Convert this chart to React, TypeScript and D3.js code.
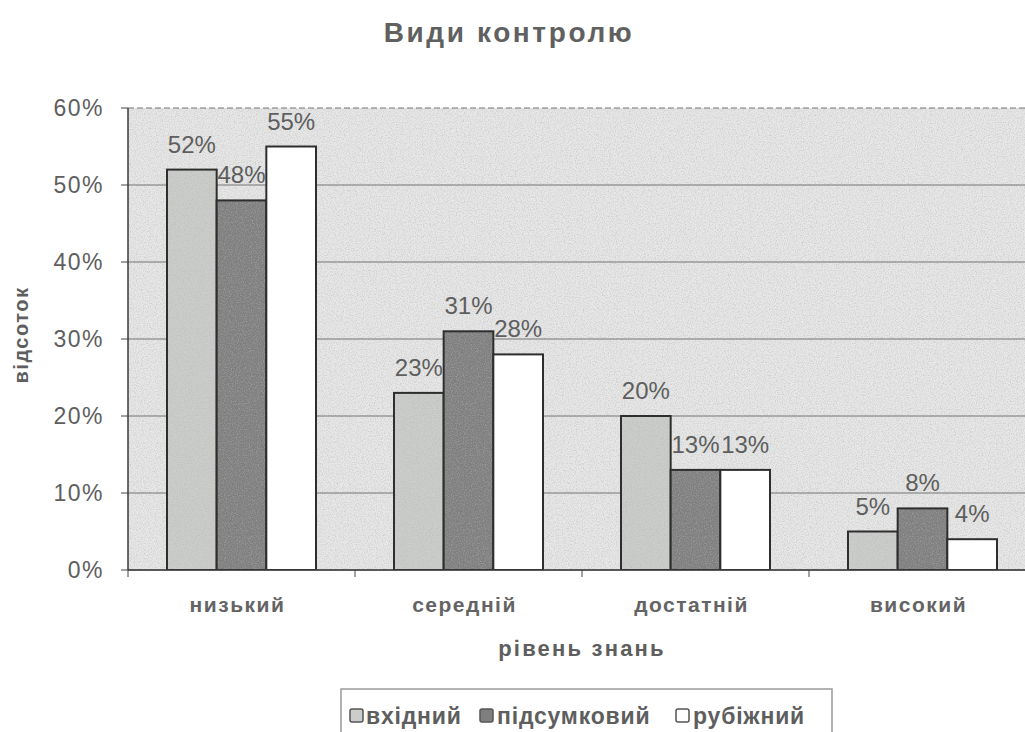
import * as d3 from "d3";

// chart data
const categories = ["низький", "середній", "достатній", "високий"];
const seriesNames = ["вхідний", "підсумковий", "рубіжний"];
const vkhidnyi = [52, 23, 20, 5];
const pidsumkovyi = [48, 31, 13, 8];
const rubizhnyi = [55, 28, 13, 4];
const yTicks = [0, 10, 20, 30, 40, 50, 60];

const seriesValues = [vkhidnyi, pidsumkovyi, rubizhnyi];
const seriesFill = ["#cbcdca", "#7f7f7f", "#ffffff"];

export default function App() {
  const width = 1025;
  const height = 732;
  const margin = { top: 108, left: 128, bottom: 162 };
  const plotRight = 1036;
  const bottomY = height - margin.bottom;
  const font = "'Liberation Sans', Arial, sans-serif";
  const textColor = "#5e5e5e";

  // x: one band per category, bars inside
  const x0 = d3
    .scaleBand<string>()
    .domain(categories)
    .range([margin.left, plotRight])
    .paddingInner(0)
    .paddingOuter(0);

  const groupPad = 39;
  const x1 = d3
    .scaleBand<string>()
    .domain(seriesNames)
    .range([groupPad, x0.bandwidth() - groupPad]);

  const y = d3.scaleLinear().domain([0, 60]).range([bottomY, margin.top]);

  return (
    <div style={{ position: "absolute", left: 0, top: 0 }}>
      <svg width={width} height={height} style={{ display: "block", background: "#fff" }}>
        <defs>
          <filter id="grain" x="0" y="0" width="100%" height="100%">
            <feTurbulence type="fractalNoise" baseFrequency="0.85" numOctaves={2} seed={3} result="n" />
            <feColorMatrix
              in="n"
              type="matrix"
              values="0 0 0 0 0.45  0 0 0 0 0.46  0 0 0 0 0.45  0 0 0 1.2 -0.5"
            />
          </filter>
          <clipPath id="plotClip">
            <rect x={margin.left} y={margin.top} width={plotRight - margin.left} height={bottomY - margin.top} />
          </clipPath>
        </defs>

        {/* title */}
        <text
          x={509}
          y={42}
          textAnchor="middle"
          fontSize={28}
          fontWeight="bold"
          fill="#606060"
          fontFamily={font}
          letterSpacing={2.6}
        >
          Види контролю
        </text>

        {/* plot background with scan grain */}
        <rect x={margin.left} y={margin.top} width={plotRight - margin.left} height={bottomY - margin.top} fill="#e6e7e6" />
        <rect
          x={margin.left}
          y={margin.top}
          width={plotRight - margin.left}
          height={bottomY - margin.top}
          fill="#fff"
          filter="url(#grain)"
        />

        {/* grid lines */}
        {yTicks.map(t => (
          <g key={t}>
            <line
              x1={margin.left}
              x2={plotRight}
              y1={y(t)}
              y2={y(t)}
              stroke="#747474"
              strokeWidth={1}
              strokeDasharray={t === 60 ? "6 3" : undefined}
            />
            <line x1={margin.left - 7} x2={margin.left} y1={y(t)} y2={y(t)} stroke="#444" />
            <text
              x={margin.left - 24}
              y={y(t) + 8}
              textAnchor="end"
              fontSize={23}
              fill={textColor}
              fontFamily={font}
              letterSpacing={1.5}
            >
              {t}%
            </text>
          </g>
        ))}

        {/* bars */}
        <g clipPath="url(#plotClip)">
          {categories.map((c, ci) => (
            <g key={c} transform={`translate(${x0(c)},0)`}>
              {seriesNames.map((s, si) => {
                const v = seriesValues[si][ci];
                return (
                  <g key={s}>
                    <rect
                      x={x1(s)}
                      y={y(v)}
                      width={x1.bandwidth()}
                      height={bottomY - y(v)}
                      fill={seriesFill[si]}
                    />
                    {si < 2 && (
                      <rect
                        x={x1(s)}
                        y={y(v)}
                        width={x1.bandwidth()}
                        height={bottomY - y(v)}
                        fill="#fff"
                        filter="url(#grain)"
                      />
                    )}
                    <rect
                      x={x1(s)}
                      y={y(v)}
                      width={x1.bandwidth()}
                      height={bottomY - y(v)}
                      fill="none"
                      stroke="#2e2e2e"
                      strokeWidth={2}
                    />
                  </g>
                );
              })}
            </g>
          ))}
        </g>

        {/* value labels */}
        {categories.map((c, ci) =>
          seriesNames.map((s, si) => {
            const v = seriesValues[si][ci];
            return (
              <text
                key={c + s}
                x={(x0(c) ?? 0) + (x1(s) ?? 0) + x1.bandwidth() / 2}
                y={y(v) - 17}
                textAnchor="middle"
                fontSize={24}
                fill={textColor}
                fontFamily={font}
              >
                {v}%
              </text>
            );
          })
        )}

        {/* axes */}
        <line x1={margin.left} x2={margin.left} y1={margin.top} y2={bottomY} stroke="#3a3a3a" strokeWidth={1.5} />
        <line x1={margin.left} x2={plotRight} y1={bottomY} y2={bottomY} stroke="#3a3a3a" strokeWidth={1.5} />
        {categories.map(c => (
          <line
            key={c}
            x1={x0(c)}
            x2={x0(c)}
            y1={bottomY}
            y2={bottomY + 7}
            stroke="#444"
          />
        ))}

        {/* category labels */}
        {categories.map(c => (
          <text
            key={c}
            x={(x0(c) ?? 0) + x0.bandwidth() / 2 - 4}
            y={bottomY + 42}
            textAnchor="middle"
            fontSize={21}
            fontWeight="bold"
            fill="#646464"
            fontFamily={font}
            letterSpacing={1.5}
          >
            {c}
          </text>
        ))}

        {/* axis titles */}
        <text
          x={582}
          y={bottomY + 86}
          textAnchor="middle"
          fontSize={22}
          fontWeight="bold"
          fill={textColor}
          fontFamily={font}
          letterSpacing={2.2}
        >
          рівень знань
        </text>
        <text
          transform={`translate(28,335) rotate(-90)`}
          textAnchor="middle"
          fontSize={20}
          fontWeight="bold"
          fill={textColor}
          fontFamily={font}
          letterSpacing={1.5}
        >
          відсоток
        </text>

        {/* legend */}
        <g transform="translate(341,689)">
          <rect x={0} y={0} width={491} height={60} fill="#fff" stroke="#9a9a9a" strokeWidth={1.5} />
          {[
            { x: 9, tx: 25 },
            { x: 139, tx: 156 },
            { x: 335, tx: 352 },
          ].map((p, i) => (
            <g key={seriesNames[i]}>
              <rect x={p.x} y={20} width={13} height={13} rx={2} fill={seriesFill[i]} stroke="#555" strokeWidth={1.5} />
              <text x={p.tx} y={35} fontSize={23} fontWeight="bold" fill={textColor} fontFamily={font} letterSpacing={0.8}>
                {seriesNames[i]}
              </text>
            </g>
          ))}
        </g>
      </svg>
    </div>
  );
}
